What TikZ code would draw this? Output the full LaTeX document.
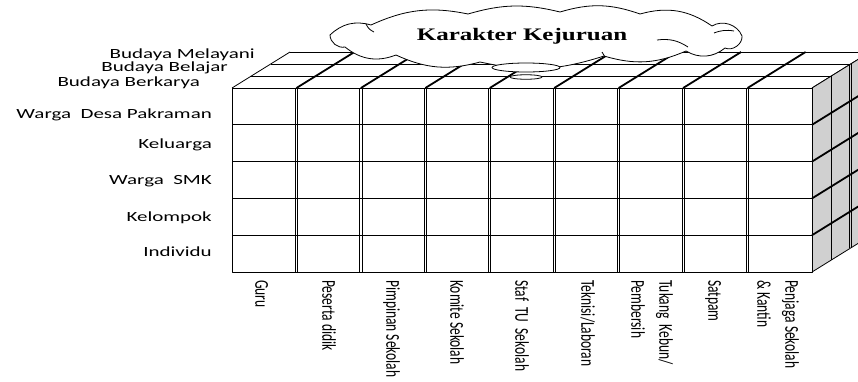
\documentclass[tikz,border=0pt]{standalone}
\usepackage{fontspec}
\setmainfont{Carlito}
\newfontfamily\labfont[FakeStretch=1.5]{Carlito}
\newfontfamily\titlefont[FakeStretch=1.42]{Liberation Serif}
\usetikzlibrary{shapes.geometric}
\definecolor{sidegray}{RGB}{208,208,208}
\newcommand{\vlab}[1]{\scalebox{1}[1.45]{\begin{tabular}{@{}l@{}}#1\end{tabular}}}
\begin{document}
\begin{tikzpicture}[x=1pt,y=-1pt,line join=round,
  thinline/.style={line width=0.8pt},
  thickline/.style={line width=1.8pt},
  leftlab/.style={anchor=base east,inner sep=0pt,font=\labfont\fontsize{14pt}{16pt}\selectfont},
  botlab/.style={anchor=west,inner sep=0pt,rotate=-90,font=\fontsize{13.5pt}{19.3pt}\selectfont}]
\useasboundingbox (0,0) rectangle (858,381);
\def\W{64.444}
\def\H{36.8}
% top face
\fill[white] (232,88) -- (812,88) -- (870,52) -- (290,52) -- cycle;
\foreach \k in {1,2,3}
  \draw[thinline] ({232+19.333*\k},{88-12*\k}) -- ({812+19.333*\k},{88-12*\k});
\foreach \i in {0,9}
  \draw[thinline] ({232+\W*\i},88) -- ++(58,-36);
\foreach \i in {1,...,8}
  \draw[thickline] ({232+\W*\i},88) -- ++(58,-36);
% front face
\draw[thinline,fill=white] (232,88) rectangle (812,272);
\foreach \j in {1,...,4}
  \draw[thinline] (232,{88+\H*\j}) -- (812,{88+\H*\j});
\foreach \i in {1,...,8}{
  \draw[thinline] ({232+\W*\i-1.1},88) -- ++(0,184);
  \draw[thinline] ({232+\W*\i+1.1},88) -- ++(0,184);
}
% right face
\fill[sidegray] (812,88) -- (870,52) -- (870,236) -- (812,272) -- cycle;
\foreach \j in {0,5}
  \draw[thinline] (812,{88+\H*\j}) -- ++(58,-36);
\foreach \j in {1,...,4}
  \draw[thickline] (812,{88+\H*\j}) -- ++(58,-36);
\draw[thinline] (812,88) -- (812,272);
\draw[thinline] (831.33,76) -- ++(0,184);
\draw[thinline] (849.6,64) -- ++(0,184);
\draw[thinline] (851.8,64) -- ++(0,184);
\draw[thinline] (870,52) -- ++(0,184);
% cloud (drawn directly)
\draw[thinline,fill=white] (330,35)
  to[bend left=30] (371,25)
  to[bend left=18] (468,14)
  to[bend left=15] (560,12)
  to[bend left=18] (640,14)
  to[bend left=25] (712,26)
  to[bend left=50] (742,36)
  to[bend left=60] (725,48)
  to[bend left=35] (686,51)
  to[bend left=20] (604,56)
  to[bend left=15] (480,62)
  to[bend left=20] (396,55)
  to[bend left=30] (345,47)
  to[bend left=50] cycle;
\draw[thinline] (366,24) to[bend right=20] (374,32);
\draw[thinline] (657,40) to[bend left=20] (688,47);
\draw[thinline] (714,33) to[bend left=15] (734,31);
\draw[thinline] (602,52) to[bend left=10] (605,57);
\node[ellipse,draw,fill=white,thinline,minimum width=68pt,minimum height=9pt,inner sep=0pt] (b1) at (526,67.5) {};
\node[ellipse,draw,fill=white,thinline,minimum width=32pt,minimum height=4.5pt,inner sep=0pt] (b2) at (526,77) {};
\node[anchor=base,inner sep=0pt,font=\titlefont\bfseries\fontsize{17.6pt}{20pt}\selectfont] (title) at (522,40) {Karakter Kejuruan};
% left labels
\node[leftlab] (l1) at (255,58.5) {Budaya Melayani};
\node[leftlab] (l2) at (228,71) {Budaya Belajar};
\node[leftlab] (l3) at (200,86) {Budaya Berkarya};
\node[leftlab] (l4) at (212,118.3) {Warga\ \ Desa Pakraman};
\node[leftlab] (l5) at (212,148.3) {Keluarga};
\node[leftlab] (l6) at (212,184.3) {Warga\ \ SMK};
\node[leftlab] (l7) at (212,221.7) {Kelompok};
\node[leftlab] (l8) at (212,256.7) {Individu};
% bottom labels
\node[botlab] (c1) at (261,280) {\vlab{Guru}};
\node[botlab] (c2) at (328,280) {\vlab{Peserta didik}};
\node[botlab] (c3) at (392,280) {\vlab{Pimpinan Sekolah}};
\node[botlab] (c4) at (456,280) {\vlab{Komite Sekolah}};
\node[botlab] (c5) at (521,280) {\vlab{Staf\ \ TU\ \ Sekolah}};
\node[botlab] (c6) at (587,280) {\vlab{Teknisi/Laboran}};
\node[botlab] (c7) at (651,280) {\vlab{Tukang\ \ Kebun/\\Pembersih}};
\node[botlab] (c8) at (714,280) {\vlab{Satpam}};
\node[botlab] (c9) at (777,280) {\vlab{Penjaga Sekolah\\\& Kantin}};
\end{tikzpicture}
\end{document}
